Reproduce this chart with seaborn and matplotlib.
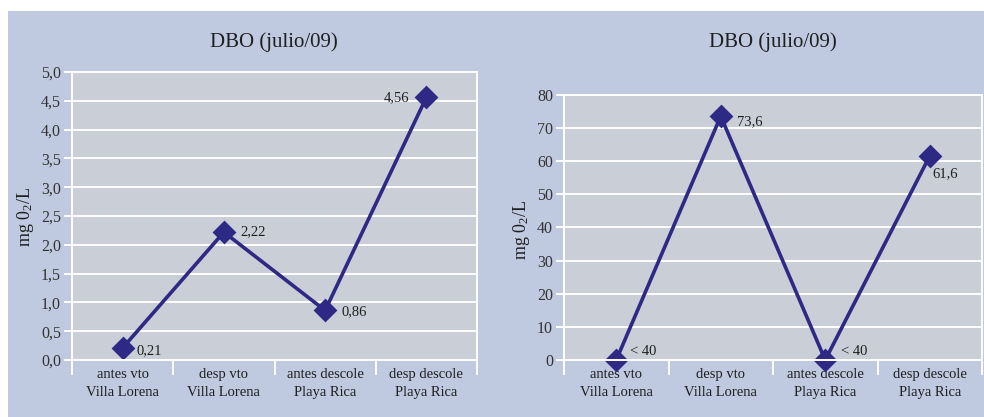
import matplotlib
matplotlib.use("Agg")
import matplotlib.pyplot as plt
import matplotlib.patches as mpatches
from matplotlib.ticker import FixedLocator, FuncFormatter
import seaborn as sns
import pandas as pd

# --- data -----------------------------------------------------------------
sites = ["antes vto\nVilla Lorena", "desp vto\nVilla Lorena",
         "antes descole\nPlaya Rica", "desp descole\nPlaya Rica"]

dbo_left = [0.21, 2.22, 0.86, 4.56]
labels_left = ["0,21", "2,22", "0,86", "4,56"]

dbo_right = [0.0, 73.6, 0.0, 61.6]
labels_right = ["< 40", "73,6", "< 40", "61,6"]

title = "DBO (julio/09)"
ylabel = r"mg 0$_{2}$/L"

# --- style ----------------------------------------------------------------
sns.set_theme(style="white")
plt.rcParams["font.family"] = ["Liberation Serif", "DejaVu Serif"]
plt.rcParams["mathtext.fontset"] = "custom"
plt.rcParams["mathtext.rm"] = "Liberation Serif"
plt.rcParams["mathtext.it"] = "Liberation Serif:italic"

PANEL = "#bfcae0"
PLOT_BG = "#c9ced7"
LINE = "#2e2985"
TEXT = "#1f1f1f"

W, H = 984, 417
fig = plt.figure(figsize=(W / 100, H / 100), dpi=100, facecolor="white")
fig.patches.append(mpatches.Rectangle((8 / W, 0), 1 - 8 / W, 1 - 11 / H,
                                      transform=fig.transFigure,
                                      facecolor=PANEL, edgecolor="none",
                                      zorder=-10))


def px(x0, y0, x1, y1):
    """Axes rectangle from pixel edges (origin top-left)."""
    return [x0 / W, 1 - y1 / H, (x1 - x0) / W, (y1 - y0) / H]


def draw(ax, values, texts, yticks, fmt, offsets, ha_list, cat_pad):
    df = pd.DataFrame({"site": sites, "dbo": values})
    sns.pointplot(data=df, x="site", y="dbo", ax=ax, color=LINE,
                  markers="D", markersize=10, linewidth=2.6,
                  order=sites)
    ax.set_facecolor(PLOT_BG)
    ax.set_xlim(-0.5, 3.5)
    ax.set_ylim(yticks[0], yticks[-1])
    ax.yaxis.set_major_locator(FixedLocator(yticks))
    ax.yaxis.set_major_formatter(FuncFormatter(fmt))
    ax.grid(axis="y", color="white", linewidth=1.4)
    ax.set_axisbelow(True)
    for s in ax.spines.values():
        s.set_color("white")
        s.set_linewidth(1.4)
    ax.tick_params(which="both", bottom=True, left=True)
    ax.tick_params(axis="y", which="major", direction="out", length=6,
                   width=1.4, color="white", labelsize=11.5,
                   labelcolor="#333333", pad=2)
    ax.xaxis.set_minor_locator(FixedLocator([-0.5, 0.5, 1.5, 2.5, 3.5]))
    ax.tick_params(axis="x", which="minor", direction="out", length=11,
                   width=1.4, color="white")
    ax.tick_params(axis="x", which="major", length=0, labelsize=10.5,
                   labelcolor=TEXT, pad=cat_pad)
    for lab in ax.get_xticklabels():
        lab.set_linespacing(1.5)
    ax.set_xlabel("")
    ax.set_ylabel("")
    for line in ax.lines:
        line.set_clip_on(False)
    for i, (v, t) in enumerate(zip(values, texts)):
        ax.annotate(t, (i, v), xytext=offsets[i], textcoords="offset points",
                    ha=ha_list[i], va="center", fontsize=10.5, color=TEXT)


ax1 = fig.add_axes(px(72, 72, 477, 360))
draw(ax1, dbo_left, labels_left, [i * 0.5 for i in range(11)],
     lambda v, p: f"{v:.1f}".replace(".", ","),
     [(10, -2), (12, 0), (12, -1), (-12, 0)],
     ["left", "left", "left", "right"], 6)

ax2 = fig.add_axes(px(564, 95, 982, 360))
draw(ax2, dbo_right, labels_right, list(range(0, 81, 10)),
     lambda v, p: f"{v:.0f}",
     [(10, 6), (12, -4), (11, 6), (2, -13)],
     ["left", "left", "left", "left"], 6)

fig.text(274 / W, 1 - 42 / H, title, ha="center", va="center",
         fontsize=15, color=TEXT)
fig.text(773 / W, 1 - 42 / H, title, ha="center", va="center",
         fontsize=15, color=TEXT)
fig.text(25 / W, 1 - 217 / H, ylabel, ha="center", va="center",
         rotation=90, fontsize=13, color=TEXT)
fig.text(522 / W, 1 - 230 / H, ylabel, ha="center", va="center",
         rotation=90, fontsize=13, color=TEXT)

fig.savefig("out.png", dpi=100, facecolor="white")
